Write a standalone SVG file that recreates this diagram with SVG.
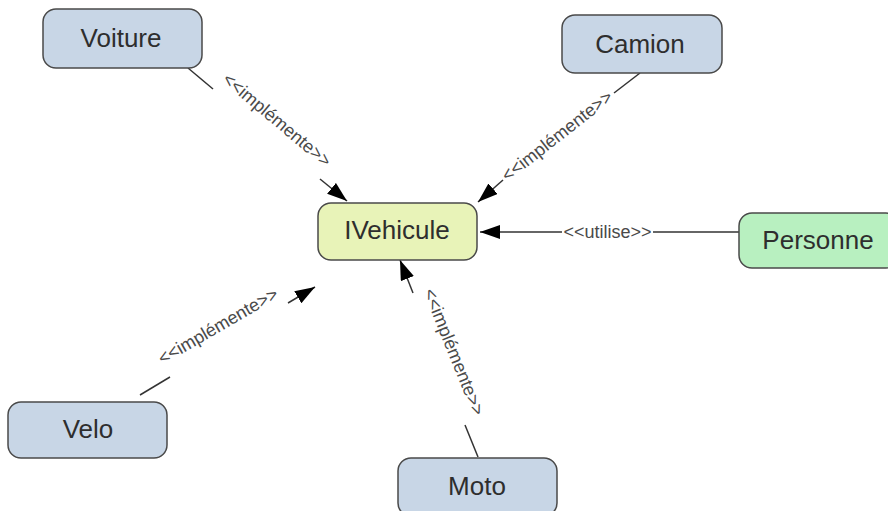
<svg xmlns="http://www.w3.org/2000/svg" width="888" height="511" viewBox="0 0 888 511">
<defs>
<style>
.box{stroke:#4a4a4a;stroke-width:1.5}
.blue{fill:#c8d6e6}
.yellow{fill:#e8f3b8}
.green{fill:#b8f0c0}
.nt{font-family:"Liberation Sans",Arial,sans-serif;font-size:26px;fill:#2e2e2e;text-anchor:middle}
.lt{font-family:"Liberation Sans",Arial,sans-serif;font-size:18px;fill:#4a4a4a;text-anchor:middle}
.ln{stroke:#333;stroke-width:1.5;fill:none}
</style>
<marker id="arr" markerUnits="userSpaceOnUse" markerWidth="22" markerHeight="16" refX="20" refY="7" orient="auto">
<path d="M0,0 L20,7 L0,14 z" fill="#000"/>
</marker>
</defs>
<rect width="888" height="511" fill="#fff"/>
<g id="connectors">
<line class="ln" x1="188" y1="68" x2="213" y2="89"/>
<line class="ln" x1="320" y1="179" x2="347" y2="201" marker-end="url(#arr)"/>
<text class="lt" x="0" y="6" transform="translate(277,120) rotate(40)">&lt;&lt;implémente&gt;&gt;</text>
<line class="ln" x1="640" y1="73" x2="614" y2="93"/>
<line class="ln" x1="503" y1="180" x2="478" y2="202" marker-end="url(#arr)"/>
<text class="lt" x="0" y="6" transform="translate(557,136) rotate(-38)">&lt;&lt;implémente&gt;&gt;</text>
<line class="ln" x1="739" y1="232" x2="653" y2="232"/>
<line class="ln" x1="562" y1="232" x2="480" y2="232" marker-end="url(#arr)"/>
<text class="lt" x="607.5" y="238">&lt;&lt;utilise&gt;&gt;</text>
<line class="ln" x1="140" y1="395" x2="170" y2="377"/>
<line class="ln" x1="288" y1="303" x2="315" y2="287" marker-end="url(#arr)"/>
<text class="lt" x="0" y="6" transform="translate(218,326) rotate(-30)">&lt;&lt;implémente&gt;&gt;</text>
<line class="ln" x1="478" y1="457" x2="465" y2="425"/>
<line class="ln" x1="413" y1="293" x2="400" y2="260" marker-end="url(#arr)"/>
<text class="lt" x="0" y="6" transform="translate(454,352) rotate(68)">&lt;&lt;implémente&gt;&gt;</text>
</g>
<g id="voiture"><rect class="box blue" x="43" y="9" width="159" height="59" rx="13"/><text class="nt" x="121" y="47">Voiture</text></g>
<g id="camion"><rect class="box blue" x="562" y="15" width="160" height="58" rx="13"/><text class="nt" x="640" y="53">Camion</text></g>
<g id="ivehicule"><rect class="box yellow" x="318" y="203" width="159" height="57" rx="13"/><text class="nt" x="397" y="239">IVehicule</text></g>
<g id="personne"><rect class="box green" x="739" y="213" width="160" height="55" rx="13"/><text class="nt" x="818" y="249">Personne</text></g>
<g id="velo"><rect class="box blue" x="8" y="402" width="159" height="56" rx="13"/><text class="nt" x="88" y="438">Velo</text></g>
<g id="moto"><rect class="box blue" x="398" y="458" width="159" height="58" rx="13"/><text class="nt" x="477" y="495">Moto</text></g>
</svg>
